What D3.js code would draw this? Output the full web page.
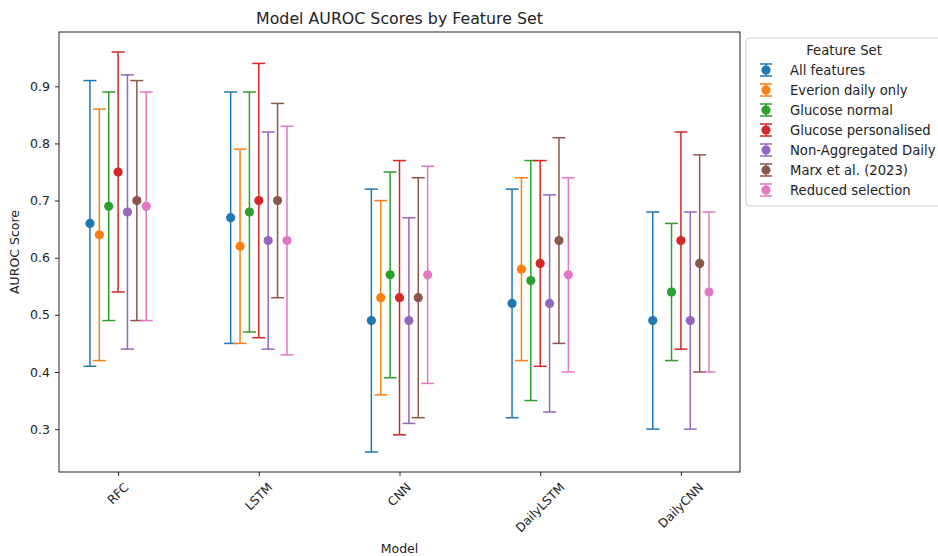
<!DOCTYPE html>
<html>
<head>
<meta charset="utf-8">
<script src="https://cdn.jsdelivr.net/npm/d3@7/dist/d3.min.js"></script>
<style>
	body { margin: 0; background: #fff; }
	svg { font-family: "DejaVu Sans", sans-serif; }
</style>
</head>
<body>
<div id="chart"></div>
<script>
	'use strict';

	// Data
	var models = ['RFC', 'LSTM', 'CNN', 'DailyLSTM', 'DailyCNN'];
	var featureSets = ['All features', 'Everion daily only', 'Glucose normal', 'Glucose personalised',
		'Non-Aggregated Daily', 'Marx et al. (2023)', 'Reduced selection'];
	var colors = ['#1f77b4', '#ff7f0e', '#2ca02c', '#d62728', '#9467bd', '#8c564b', '#e377c2'];

	// one row per feature set, one value per model (null = not available)
	var meanScores = [
		[0.66, 0.67, 0.49, 0.52, 0.49],
		[0.64, 0.62, 0.53, 0.58, null],
		[0.69, 0.68, 0.57, 0.56, 0.54],
		[0.75, 0.70, 0.53, 0.59, 0.63],
		[0.68, 0.63, 0.49, 0.52, 0.49],
		[0.70, 0.70, 0.53, 0.63, 0.59],
		[0.69, 0.63, 0.57, 0.57, 0.54]
	];
	var lowerScores = [
		[0.41, 0.45, 0.26, 0.32, 0.30],
		[0.42, 0.45, 0.36, 0.42, null],
		[0.49, 0.47, 0.39, 0.35, 0.42],
		[0.54, 0.46, 0.29, 0.41, 0.44],
		[0.44, 0.44, 0.31, 0.33, 0.30],
		[0.49, 0.53, 0.32, 0.45, 0.40],
		[0.49, 0.43, 0.38, 0.40, 0.40]
	];
	var upperScores = [
		[0.91, 0.89, 0.72, 0.72, 0.68],
		[0.86, 0.79, 0.70, 0.74, null],
		[0.89, 0.89, 0.75, 0.77, 0.66],
		[0.96, 0.94, 0.77, 0.77, 0.82],
		[0.92, 0.82, 0.67, 0.71, 0.68],
		[0.91, 0.87, 0.74, 0.81, 0.78],
		[0.89, 0.83, 0.76, 0.74, 0.68]
	];
	var yTicks = [0.3, 0.4, 0.5, 0.6, 0.7, 0.8, 0.9];

	var width = 938, height = 556;
	var margin = { left: 59, top: 32, right: 198, bottom: 84 };
	var plotW = width - margin.left - margin.right;
	var plotH = height - margin.top - margin.bottom;

	var svg = d3.select('#chart').append('svg')
		.attr('width', width)
		.attr('height', height);

	// Scales (matplotlib-like 5% margins)
	var seriesSpread = 0.4;
	var xMin = -seriesSpread / 2, xMax = models.length - 1 + seriesSpread / 2;
	var xPad = (xMax - xMin) * 0.05;
	var x = d3.scaleLinear()
		.domain([xMin - xPad, xMax + xPad])
		.range([margin.left, margin.left + plotW]);

	var allLow = d3.min(lowerScores, function(r) { return d3.min(r); });
	var allHigh = d3.max(upperScores, function(r) { return d3.max(r); });
	var yPad = (allHigh - allLow) * 0.05;
	var y = d3.scaleLinear()
		.domain([allLow - yPad, allHigh + yPad])
		.range([margin.top + plotH, margin.top]);

	function seriesOffset(i) {
		return -seriesSpread / 2 + i * seriesSpread / (featureSets.length - 1);
	}

	// Series
	var cap = 6.5;
	featureSets.forEach(function(name, s) {
		var g = svg.append('g').attr('class', 'series series-' + s);
		var points = models.map(function(m, i) {
			return { x: i + seriesOffset(s), mean: meanScores[s][i], lo: lowerScores[s][i], hi: upperScores[s][i] };
		}).filter(function(d) { return d.mean !== null; });

		var bars = g.selectAll('g.bar').data(points).enter().append('g').attr('class', 'bar')
			.attr('stroke', colors[s])
			.attr('stroke-width', 1.5);
		bars.append('line')
			.attr('x1', function(d) { return x(d.x); })
			.attr('x2', function(d) { return x(d.x); })
			.attr('y1', function(d) { return y(d.lo); })
			.attr('y2', function(d) { return y(d.hi); });
		bars.append('line')
			.attr('x1', function(d) { return x(d.x) - cap; })
			.attr('x2', function(d) { return x(d.x) + cap; })
			.attr('y1', function(d) { return y(d.lo); })
			.attr('y2', function(d) { return y(d.lo); });
		bars.append('line')
			.attr('x1', function(d) { return x(d.x) - cap; })
			.attr('x2', function(d) { return x(d.x) + cap; })
			.attr('y1', function(d) { return y(d.hi); })
			.attr('y2', function(d) { return y(d.hi); });
		g.selectAll('circle').data(points).enter().append('circle')
			.attr('cx', function(d) { return x(d.x); })
			.attr('cy', function(d) { return y(d.mean); })
			.attr('r', 4.6)
			.attr('fill', colors[s]);
	});

	// Frame
	svg.append('rect')
		.attr('x', margin.left)
		.attr('y', margin.top)
		.attr('width', plotW)
		.attr('height', plotH)
		.attr('fill', 'none')
		.attr('stroke', '#222')
		.attr('stroke-width', 1);

	// Y axis
	var yAxis = svg.append('g')
		.attr('transform', 'translate(' + margin.left + ',0)')
		.call(d3.axisLeft(y).tickValues(yTicks).tickSize(4).tickPadding(5).tickFormat(d3.format('.1f')));
	yAxis.select('.domain').remove();
	yAxis.selectAll('text').attr('font-size', 12.5).attr('fill', '#222').attr('font-family', 'DejaVu Sans');
	yAxis.selectAll('line').attr('stroke', '#222');

	// X axis ticks
	var xAxis = svg.append('g')
		.attr('transform', 'translate(0,' + (margin.top + plotH) + ')')
		.call(d3.axisBottom(x).tickValues(d3.range(models.length)).tickSize(4).tickFormat(''));
	xAxis.select('.domain').remove();
	xAxis.selectAll('line').attr('stroke', '#222');

	// Rotated x labels, centred on the tick like matplotlib
	var labelTop = margin.top + plotH + 9;
	models.forEach(function(m, i) {
		var t = svg.append('text')
			.attr('font-size', 12.2)
			.attr('fill', '#222')
			.attr('text-anchor', 'middle')
			.attr('dominant-baseline', 'central')
			.text(m);
		var w = t.node().getComputedTextLength();
		var h = 12.2;
		var cy = labelTop + (w + h) * Math.SQRT1_2 / 2;
		t.attr('transform', 'translate(' + x(i) + ',' + cy + ') rotate(-45)');
	});

	// Axis titles
	svg.append('text')
		.attr('x', margin.left + plotW / 2)
		.attr('y', 553)
		.attr('text-anchor', 'middle')
		.attr('font-size', 12.5)
		.attr('fill', '#222')
		.text('Model');
	svg.append('text')
		.attr('transform', 'translate(19,' + (margin.top + plotH / 2) + ') rotate(-90)')
		.attr('text-anchor', 'middle')
		.attr('font-size', 12.5)
		.attr('fill', '#222')
		.text('AUROC Score');
	svg.append('text')
		.attr('x', margin.left + plotW / 2)
		.attr('y', 24)
		.attr('text-anchor', 'middle')
		.attr('font-size', 15.8)
		.attr('fill', '#222')
		.text('Model AUROC Scores by Feature Set');

	// Legend
	var legend = svg.append('g').attr('transform', 'translate(746,38)');
	legend.append('rect')
		.attr('x', 0).attr('y', 0)
		.attr('width', 210).attr('height', 168)
		.attr('rx', 3)
		.attr('fill', '#fff')
		.attr('stroke', '#d0d0d0');
	legend.append('text')
		.attr('x', 98).attr('y', 17)
		.attr('text-anchor', 'middle')
		.attr('font-size', 13.2)
		.attr('fill', '#222')
		.text('Feature Set');
	featureSets.forEach(function(name, s) {
		var cy = 32 + s * 20;
		var item = legend.append('g');
		item.append('line').attr('x1', 20).attr('x2', 20).attr('y1', cy - 6).attr('y2', cy + 6)
			.attr('stroke', colors[s]).attr('stroke-width', 1.5);
		item.append('line').attr('x1', 14).attr('x2', 26).attr('y1', cy - 6).attr('y2', cy - 6)
			.attr('stroke', colors[s]).attr('stroke-width', 1.5);
		item.append('line').attr('x1', 14).attr('x2', 26).attr('y1', cy + 6).attr('y2', cy + 6)
			.attr('stroke', colors[s]).attr('stroke-width', 1.5);
		item.append('circle').attr('cx', 20).attr('cy', cy).attr('r', 4.6).attr('fill', colors[s]);
		item.append('text')
			.attr('x', 44).attr('y', cy)
			.attr('dominant-baseline', 'central')
			.attr('font-size', 13.2)
			.attr('fill', '#222')
			.text(name);
	});
</script>
</body>
</html>
